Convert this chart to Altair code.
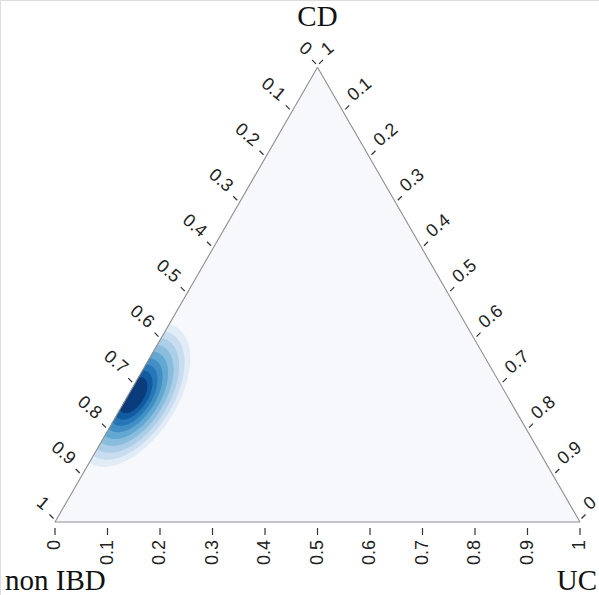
import math
import numpy as np
import pandas as pd
import altair as alt

# ---- content -------------------------------------------------------------
corner_names = ["non IBD", "UC", "CD"]

tick_values = [0.0, 0.1, 0.2, 0.3, 0.4, 0.5, 0.6, 0.7, 0.8, 0.9, 1.0]
left_labels = ["0", "0.1", "0.2", "0.3", "0.4", "0.5", "0.6", "0.7", "0.8", "0.9", "1"]
bottom_labels = ["0", "0.1", "0.2", "0.3", "0.4", "0.5", "0.6", "0.7", "0.8", "0.9", "1"]
right_labels = ["1", "0.1", "0.2", "0.3", "0.4", "0.5", "0.6", "0.7", "0.8", "0.9", "0"]

# bivariate normal density (composition of its centre: non IBD, UC, CD)
density_center = [0.712, 0.009, 0.279]
density_sd = [0.0640, 0.0349]          # along / across the main axis
density_axis_deg = 57.0
density_levels = [0.056, 0.097, 0.155, 0.236, 0.339, 0.463, 0.590, 0.715, 0.835]   # share of peak
level_colors = ["#e1ecf7", "#c9ddf0", "#accee7", "#8abddd", "#63a8d3",
                "#418fc5", "#2676b8", "#115ca1", "#0a3c7c"]

# ---- geometry --------------------------------------------------------------
S3 = math.sqrt(3.0)
PX = 525.0  # pixels per unit of the triangle's cartesian frame


def to_xy(non_ibd, uc, cd):
    return uc + cd / 2.0, cd * S3 / 2.0


BL = to_xy(1, 0, 0)
BR = to_xy(0, 1, 0)
TOP = to_xy(0, 0, 1)


def off(pt, dx_px, dy_px):
    """Shift a point by a screen offset given in pixels (dy downward)."""
    return pt[0] + dx_px / PX, pt[1] - dy_px / PX


x_dom = [-55 / PX, 544 / PX]
y_dom = [-73 / PX, 522 / PX]
xs = alt.Scale(domain=x_dom, nice=False, zero=False)
ys = alt.Scale(domain=y_dom, nice=False, zero=False)
X = lambda f: alt.X(f, type="quantitative", scale=xs, axis=None)
Y = lambda f: alt.Y(f, type="quantitative", scale=ys, axis=None)

# ---- triangle --------------------------------------------------------------
tri_fill = pd.DataFrame({"y": [BL[1], TOP[1]], "xl": [BL[0], TOP[0]], "xr": [BR[0], TOP[0]]})
fill = alt.Chart(tri_fill).mark_area(orient="horizontal", color="#f7f8fb").encode(
    y=Y("y"), x=X("xl"), x2="xr")

edges = pd.DataFrame({
    "x": [BL[0], BR[0], TOP[0]], "y": [BL[1], BR[1], TOP[1]],
    "x2": [BR[0], TOP[0], BL[0]], "y2": [BR[1], TOP[1], BL[1]]})
outline = alt.Chart(edges).mark_rule(color="#8e8e8e", strokeWidth=1.1).encode(
    x=X("x"), y=Y("y"), x2="x2", y2="y2")

# ---- density contours ------------------------------------------------------
cx, cy = to_xy(*density_center)
th = math.radians(density_axis_deg)
ct, st = math.cos(th), math.sin(th)
density_layers = []
for lev, col in zip(density_levels, level_colors):
    r = math.sqrt(-2.0 * math.log(lev))
    a, b = r * density_sd[0], r * density_sd[1]
    h = math.sqrt(a * a * st * st + b * b * ct * ct)
    A = ct * ct / a ** 2 + st * st / b ** 2
    rows = []
    for s in np.linspace(0.0, 1.0, 400):
        dy = -h * math.cos(math.pi * s)
        B = 2 * dy * ct * st * (1 / a ** 2 - 1 / b ** 2)
        C = dy * dy * (st * st / a ** 2 + ct * ct / b ** 2) - 1
        disc = max(B * B - 4 * A * C, 0.0)
        xl = cx + (-B - math.sqrt(disc)) / (2 * A)
        xr = cx + (-B + math.sqrt(disc)) / (2 * A)
        yv = cy + dy
        xl = max(xl, yv / S3)   # clip at the non IBD - CD edge
        if xr > xl:
            rows.append({"y": yv, "xl": xl, "xr": xr})
    df = pd.DataFrame(rows)
    density_layers.append(
        alt.Chart(df).mark_area(orient="horizontal", color=col, interpolate="linear").encode(
            y=Y("y"), x=X("xl"), x2="xr"))

# ---- ticks and tick labels -------------------------------------------------
tick_rows, lab_rows = [], []
for v, lab in zip(tick_values, left_labels):
    p = (TOP[0] + v * (BL[0] - TOP[0]), TOP[1] + v * (BL[1] - TOP[1]))
    a0, a1 = off(p, -1.5, -3.5), off(p, -5.5, -7.5)
    tick_rows.append({"x": a0[0], "y": a0[1], "x2": a1[0], "y2": a1[1]})
    q = off(p, -8.5, -15)
    lab_rows.append({"x": q[0], "y": q[1], "t": lab, "side": "left"})
for v, lab in zip(tick_values, right_labels):
    p = (TOP[0] + v * (BR[0] - TOP[0]), TOP[1] + v * (BR[1] - TOP[1]))
    a0, a1 = off(p, 1.5, -3.5), off(p, 5.5, -7.5)
    tick_rows.append({"x": a0[0], "y": a0[1], "x2": a1[0], "y2": a1[1]})
    q = off(p, 6.5, -15)
    lab_rows.append({"x": q[0], "y": q[1], "t": lab, "side": "right"})
for v, lab in zip(tick_values, bottom_labels):
    p = (BL[0] + v * (BR[0] - BL[0]), BL[1])
    a0, a1 = off(p, 0, 6), off(p, 0, 13)
    tick_rows.append({"x": a0[0], "y": a0[1], "x2": a1[0], "y2": a1[1]})
    q = off(p, 0, 18)
    lab_rows.append({"x": q[0], "y": q[1], "t": lab, "side": "bottom"})

ticks = alt.Chart(pd.DataFrame(tick_rows)).mark_rule(color="#333333", strokeWidth=1.2).encode(
    x=X("x"), y=Y("y"), x2="x2", y2="y2")

labs = pd.DataFrame(lab_rows)
font = "Liberation Sans"
txt_kw = dict(font=font, fontSize=18, color="#222222", baseline="middle")
left_txt = alt.Chart(labs[labs.side == "left"]).mark_text(angle=40, align="right", **txt_kw).encode(
    x=X("x"), y=Y("y"), text="t:N")
right_txt = alt.Chart(labs[labs.side == "right"]).mark_text(angle=320, align="left", **txt_kw).encode(
    x=X("x"), y=Y("y"), text="t:N")
bottom_txt = alt.Chart(labs[labs.side == "bottom"]).mark_text(angle=270, align="right", **txt_kw).encode(
    x=X("x"), y=Y("y"), text="t:N")

# ---- corner names ----------------------------------------------------------
c_top = off(TOP, 0, -41)
c_bl = off(BL, -50, 68)
c_br = off(BR, 17, 68)
corners = pd.DataFrame({
    "x": [c_bl[0], c_br[0], c_top[0]], "y": [c_bl[1], c_br[1], c_top[1]],
    "t": corner_names})
serif = dict(font="Liberation Serif", fontSize=29, color="#111111", baseline="alphabetic")
corner_txt = [
    alt.Chart(corners.iloc[[i]]).mark_text(align=al, **serif).encode(x=X("x"), y=Y("y"), text="t:N")
    for i, al in enumerate(["left", "right", "center"])
]

chart = alt.layer(
    fill, *density_layers, outline, ticks, left_txt, right_txt, bottom_txt, *corner_txt
).properties(
    width=599, height=595,
    autosize=alt.AutoSizeParams(type="none"),
    padding=0,
).configure_view(stroke=None).configure(background="white")

chart.save("out.html", embed_options={"renderer": "svg", "actions": False})
